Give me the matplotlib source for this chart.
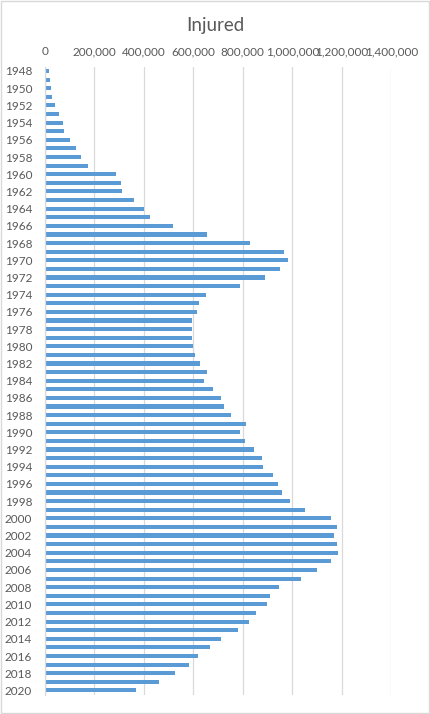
import matplotlib
matplotlib.use("Agg")
import matplotlib.pyplot as plt
from matplotlib.patches import Rectangle
from matplotlib.ticker import FuncFormatter

years = list(range(1948, 2021))
injured = [
    17609, 20242, 25450, 31274, 43321, 59280, 72390, 76501, 102072, 124530,
    145432, 175951, 289156, 308697, 313813, 359089, 401117, 425666, 517775, 655377,
    828071, 967000, 981096, 949689, 889198, 789948, 651420, 622467, 613957, 593211,
    594116, 596282, 598719, 607346, 626192, 654822, 644321, 681346, 712330, 722179,
    752845, 814832, 790295, 810245, 844003, 878633, 881723, 922677, 942204, 958925,
    990675, 1050399, 1155697, 1181039, 1168029, 1181681, 1183617, 1157113, 1098199, 1034652,
    945703, 911215, 896297, 854613, 825392, 781494, 711374, 666023, 618853, 580850,
    525846, 461775, 369476,
]
x_ticks = list(range(0, 1400001, 200000))

BAR = "#5b9bd5"
GRID = "#d9d9d9"
TEXT = "#595959"

plt.rcParams["font.family"] = ["Lato", "DejaVu Sans"]

fig = plt.figure(figsize=(4.31, 7.14), dpi=100)
ax = fig.add_axes([0.1037, 0.027, 0.908 - 0.1037, 0.9066 - 0.027])

pos = list(range(len(years)))
ax.barh(pos, injured, height=0.48, color=BAR, zorder=2)

ax.set_ylim(len(years) - 0.5, -0.5)
ax.set_yticks(pos[::2])
ax.set_yticklabels([str(y) for y in years[::2]])
ax.set_xlim(0, 1400000)
ax.set_xticks(x_ticks)
ax.xaxis.set_major_formatter(FuncFormatter(lambda v, p: f"{int(v):,}"))
ax.xaxis.tick_top()

ax.grid(axis="x", color=GRID, lw=0.9, zorder=0)
for s in ["top", "right", "bottom"]:
    ax.spines[s].set_visible(False)
ax.spines["left"].set_color(GRID)
ax.spines["left"].set_linewidth(0.9)
ax.tick_params(axis="both", length=0, labelsize=8.5, labelcolor=TEXT)
ax.tick_params(axis="x", pad=7)
ax.tick_params(axis="y", pad=9)

fig.text(0.5, 1 - 25 / 714, "Injured", ha="center", va="center", fontsize=13.5, color=TEXT)
fig.patches.append(Rectangle((0.002, 0.002), 0.994, 0.996, transform=fig.transFigure,
                             fill=False, edgecolor=GRID, lw=1))

fig.savefig("out.png", dpi=100)
